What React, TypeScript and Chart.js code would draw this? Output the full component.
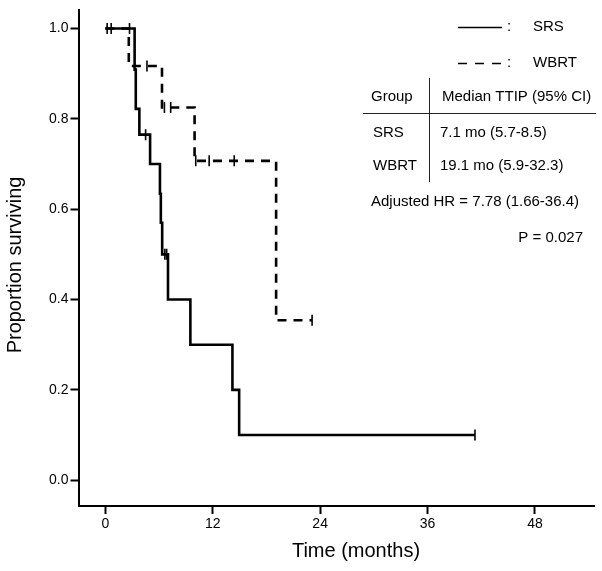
import React, { useEffect, useRef } from "react";
import { Chart, registerables } from "chart.js";

Chart.register(...registerables);

const FONT = "'Liberation Sans', Arial, sans-serif";

// Axis ticks
const xTicks = [0, 12, 24, 36, 48];
const yTicks = [0, 0.2, 0.4, 0.6, 0.8, 1.0];

// SRS (solid) Kaplan-Meier steps
const srsTimes = [0, 3.27, 3.4, 3.8, 5.0, 6.1, 6.2, 6.35, 7.0, 9.5, 14.2, 14.95, 41.3];
const srsSurv = [1.0, 0.909, 0.822, 0.765, 0.7, 0.634, 0.57, 0.5, 0.4, 0.3, 0.2, 0.1, 0.1];
const srsCensorTimes = [0.2, 0.65, 2.7, 4.5, 6.65, 6.85, 41.3];
const srsCensorSurv = [1.0, 1.0, 1.0, 0.765, 0.5, 0.5, 0.1];

// WBRT (dashed) Kaplan-Meier steps
const wbrtTimes = [0, 2.62, 6.33, 9.97, 19.08, 23.1];
const wbrtSurv = [1.0, 0.917, 0.825, 0.707, 0.354, 0.354];
const wbrtCensorTimes = [4.65, 6.6, 7.3, 10.1, 11.6, 14.4, 23.1];
const wbrtCensorSurv = [0.917, 0.825, 0.825, 0.707, 0.707, 0.707, 0.354];

// Legend / table texts
const legendLabels = ["SRS", "WBRT"];
const tableHeader = ["Group", "Median TTIP (95% CI)"];
const tableRows = [
  ["SRS", "7.1 mo (5.7-8.5)"],
  ["WBRT", "19.1 mo (5.9-32.3)"],
];
const hrText = "Adjusted HR = 7.78 (1.66-36.4)";
const pText = "P = 0.027";
const xTitle = "Time (months)";
const yTitle = "Proportion surviving";

const toPts = (xs: number[], ys: number[]) => xs.map((x, i) => ({ x, y: ys[i] }));

const annotPlugin = {
  id: "annot",
  afterDraw(chart: any) {
    const ctx: CanvasRenderingContext2D = chart.ctx;
    ctx.save();
    ctx.fillStyle = "#000";
    ctx.strokeStyle = "#000";

    // axis titles
    ctx.font = `20px ${FONT}`;
    ctx.textAlign = "center";
    ctx.textBaseline = "middle";
    ctx.fillText(xTitle, 356, 551);
    ctx.save();
    ctx.translate(15.6, 265);
    ctx.rotate(-Math.PI / 2);
    ctx.fillText(yTitle, 0, 0);
    ctx.restore();

    // legend
    ctx.lineWidth = 1.6;
    ctx.beginPath();
    ctx.moveTo(458, 27.5);
    ctx.lineTo(502, 27.5);
    ctx.stroke();
    ctx.setLineDash([9, 8]);
    ctx.beginPath();
    ctx.moveTo(458, 63.5);
    ctx.lineTo(502, 63.5);
    ctx.stroke();
    ctx.setLineDash([]);

    ctx.font = `15px ${FONT}`;
    ctx.textAlign = "center";
    ctx.fillText(":", 509, 27);
    ctx.fillText(":", 509, 63);
    ctx.textAlign = "left";
    ctx.fillText(legendLabels[0], 533, 27);
    ctx.fillText(legendLabels[1], 533, 63);

    // table
    ctx.lineWidth = 1;
    ctx.strokeStyle = "#222";
    ctx.beginPath();
    ctx.moveTo(429.5, 78);
    ctx.lineTo(429.5, 182);
    ctx.moveTo(363, 113.5);
    ctx.lineTo(596, 113.5);
    ctx.stroke();

    ctx.fillText(tableHeader[0], 371, 97);
    ctx.fillText(tableHeader[1], 442, 97);
    ctx.fillText(tableRows[0][0], 373, 133);
    ctx.fillText(tableRows[0][1], 440, 133);
    ctx.fillText(tableRows[1][0], 373, 166);
    ctx.fillText(tableRows[1][1], 440, 166);
    ctx.fillText(hrText, 371, 202);
    ctx.textAlign = "right";
    ctx.fillText(pText, 583, 238);

    ctx.restore();
  },
};

export default function App() {
  const ref = useRef<HTMLCanvasElement | null>(null);

  useEffect(() => {
    if (!ref.current) return;
    const lineStyle = {
      showLine: true,
      stepped: true,
      pointRadius: 0,
      borderColor: "#000",
      backgroundColor: "#000",
      borderWidth: 2.6,
      fill: false,
    };
    const censorStyle = {
      showLine: false,
      pointStyle: "line",
      pointRotation: 90,
      pointRadius: 5.5,
      pointBorderWidth: 1.6,
      pointBorderColor: "#000",
      borderColor: "#000",
      backgroundColor: "#000",
    };
    const chart = new Chart(ref.current, {
      type: "scatter",
      data: {
        datasets: [
          { label: "SRS", data: toPts(srsTimes, srsSurv), ...lineStyle } as any,
          { label: "WBRT", data: toPts(wbrtTimes, wbrtSurv), ...lineStyle, borderDash: [9, 7] } as any,
          { label: "SRS censored", data: toPts(srsCensorTimes, srsCensorSurv), ...censorStyle } as any,
          { label: "WBRT censored", data: toPts(wbrtCensorTimes, wbrtCensorSurv), ...censorStyle } as any,
        ],
      },
      options: {
        responsive: false,
        animation: false,
        devicePixelRatio: 1,
        layout: { padding: { top: 6.7, right: 7, left: 0, bottom: 0 } },
        plugins: {
          legend: { display: false },
          tooltip: { enabled: false },
          title: { display: false },
        },
        scales: {
          x: {
            type: "linear",
            min: -3,
            max: 54.7,
            afterBuildTicks: (s: any) => {
              s.ticks = xTicks.map((v) => ({ value: v }));
            },
            afterFit: (s: any) => {
              s.height = 65;
            },
            ticks: {
              color: "#000",
              font: { family: FONT, size: 14 },
              padding: 2,
              maxRotation: 0,
              autoSkip: false,
              callback: (v: any) => String(v),
            },
            grid: {
              display: true,
              drawOnChartArea: false,
              drawTicks: true,
              tickLength: 8,
              tickWidth: 2,
              tickColor: "#000",
              color: "#000",
            },
            border: { display: true, color: "#000", width: 2 },
          },
          y: {
            type: "linear",
            min: -0.057,
            max: 1.04,
            afterBuildTicks: (s: any) => {
              s.ticks = yTicks.map((v) => ({ value: v }));
            },
            afterFit: (s: any) => {
              s.width = 78.5;
            },
            ticks: {
              color: "#000",
              font: { family: FONT, size: 14 },
              padding: 2,
              autoSkip: false,
              callback: (v: any) => Number(v).toFixed(1),
            },
            grid: {
              display: true,
              drawOnChartArea: false,
              drawTicks: true,
              tickLength: 8,
              tickWidth: 2,
              tickColor: "#000",
              color: "#000",
            },
            border: { display: true, color: "#000", width: 2 },
          },
        },
      } as any,
      plugins: [annotPlugin],
    });
    return () => chart.destroy();
  }, []);

  return (
    <div style={{ position: "absolute", left: 0, top: 0, width: 602, height: 571, background: "#fff" }}>
      <canvas ref={ref} width={602} height={571} style={{ display: "block", width: 602, height: 571 }} />
    </div>
  );
}
